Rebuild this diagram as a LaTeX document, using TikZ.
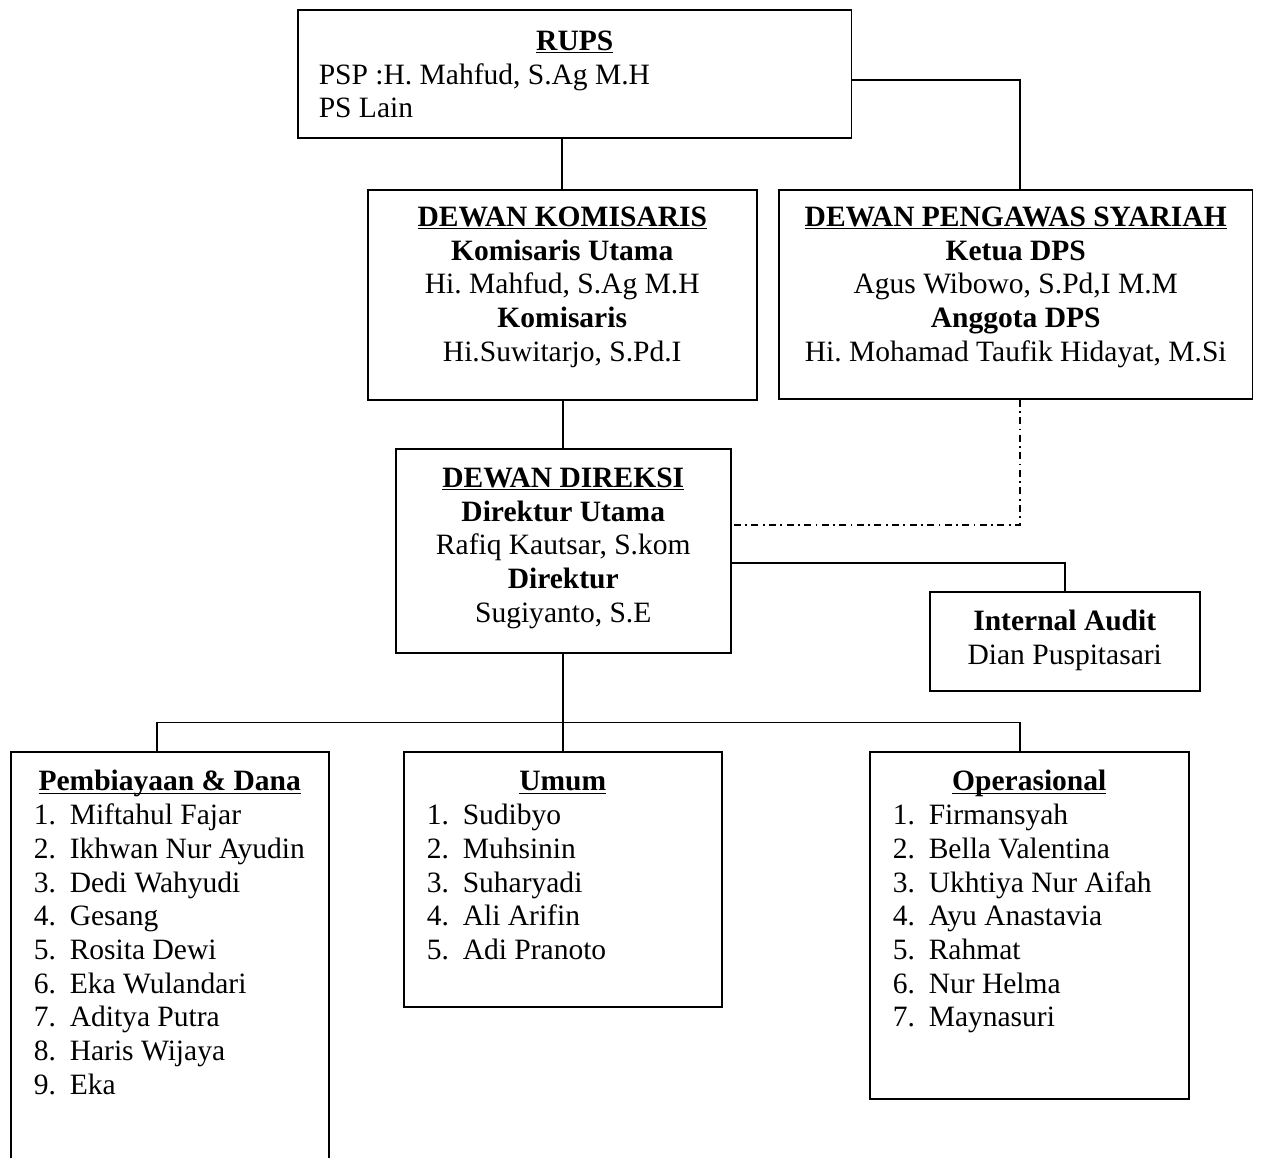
\documentclass[tikz,border=0pt]{standalone}
\usepackage{fontspec}
\setmainfont{Liberation Serif}
\usetikzlibrary{calc}

\newcommand{\orgfont}{\fontsize{16.8pt}{0.675cm}\selectfont\frenchspacing}
\newcommand{\hdr}[1]{\underline{\smash{\textbf{#1}}}}
\newcommand{\itm}[2]{\hspace*{0.46cm}\makebox[0.72cm][l]{#1.}#2}
% width, height, first baseline, content
\newcommand{\unitbox}[4]{\parbox[t][#2][t]{#1}{\rule{0pt}{#3}#4}}

\tikzset{
    unit/.style={draw, line width=0.9pt, inner sep=0pt, anchor=north west, font=\orgfont},
    link/.style={line width=0.9pt},
    advice/.style={line width=0.9pt, dash pattern=on 4pt off 2.5pt on 1pt off 2.5pt},
}

\begin{document}
\begin{tikzpicture}[x=0.02cm, y=-0.02cm]
    \useasboundingbox (0,0) rectangle (1272,1157);

    % RUPS
    \node[unit] (rups) at (297,9) {\unitbox{11.08cm}{2.56cm}{0.81cm}{%
        \makebox[\linewidth]{\hdr{RUPS}}\\
        \hspace*{0.42cm}PSP :H. Mahfud, S.Ag M.H\\
        \hspace*{0.42cm}PS Lain}};

    % boards
    \node[unit] (dk) at (367,189) {\unitbox{7.78cm}{4.20cm}{0.73cm}{\centering
        \hdr{DEWAN KOMISARIS}\\
        \textbf{Komisaris Utama}\\
        Hi. Mahfud, S.Ag M.H\\
        \textbf{Komisaris}\\
        Hi.Suwitarjo, S.Pd.I}};
    \node[unit] (dps) at (778,189) {\unitbox{9.48cm}{4.18cm}{0.73cm}{\centering
        \hdr{DEWAN PENGAWAS SYARIAH}\\
        \textbf{Ketua DPS}\\
        Agus Wibowo, S.Pd,I M.M\\
        \textbf{Anggota DPS}\\
        Hi. Mohamad Taufik Hidayat, M.Si}};

    % direksi and audit
    \node[unit] (dd) at (395,448) {\unitbox{6.70cm}{4.08cm}{0.77cm}{\centering
        \hdr{DEWAN DIREKSI}\\
        \textbf{Direktur Utama}\\
        Rafiq Kautsar, S.kom\\
        \textbf{Direktur}\\
        Sugiyanto, S.E}};
    \node[unit] (ia) at (929,591) {\unitbox{5.40cm}{1.98cm}{0.78cm}{\centering
        \textbf{Internal Audit}\\
        Dian Puspitasari}};

    % divisions
    \node[unit] (pd) at (10,751) {\unitbox{6.36cm}{8.48cm}{0.78cm}{%
        \makebox[\linewidth]{\hdr{Pembiayaan \& Dana}}\\
        \itm{1}{Miftahul Fajar}\\
        \itm{2}{Ikhwan Nur Ayudin}\\
        \itm{3}{Dedi Wahyudi}\\
        \itm{4}{Gesang}\\
        \itm{5}{Rosita Dewi}\\
        \itm{6}{Eka Wulandari}\\
        \itm{7}{Aditya Putra}\\
        \itm{8}{Haris Wijaya}\\
        \itm{9}{Eka}}};
    \node[unit] (umum) at (403,751) {\unitbox{6.36cm}{5.10cm}{0.78cm}{%
        \makebox[\linewidth]{\hdr{Umum}}\\
        \itm{1}{Sudibyo}\\
        \itm{2}{Muhsinin}\\
        \itm{3}{Suharyadi}\\
        \itm{4}{Ali Arifin}\\
        \itm{5}{Adi Pranoto}}};
    \node[unit] (op) at (869,751) {\unitbox{6.38cm}{6.94cm}{0.78cm}{%
        \makebox[\linewidth]{\hdr{Operasional}}\\
        \itm{1}{Firmansyah}\\
        \itm{2}{Bella Valentina}\\
        \itm{3}{Ukhtiya Nur Aifah}\\
        \itm{4}{Ayu Anastavia}\\
        \itm{5}{Rahmat}\\
        \itm{6}{Nur Helma}\\
        \itm{7}{Maynasuri}}};

    % RUPS -> boards
    \draw[link] (dk.north) -- (dk.north |- rups.south);
    \draw[link] ([yshift=-0.12cm]rups.east) -| ([xshift=0.08cm]dps.north);

    % komisaris -> direksi
    \draw[link] (dd.north) -- (dd.north |- dk.south);

    % DPS advice line
    \draw[advice] ([xshift=0.08cm]dps.south) |- ([yshift=0.52cm]dd.east);

    % direksi -> audit
    \draw[link] ([yshift=-0.24cm]dd.east) -| (ia.north);

    % direksi -> divisions
    \coordinate (bus) at ([yshift=-1.38cm]dd.south);
    \draw[link] (dd.south) -- (bus);
    \draw[link] ([xshift=-0.26cm]pd.north) |- (bus) -| ([xshift=-0.19cm]op.north);
    \draw[link] (umum.north) -- (umum.north |- bus);
\end{tikzpicture}
\end{document}
